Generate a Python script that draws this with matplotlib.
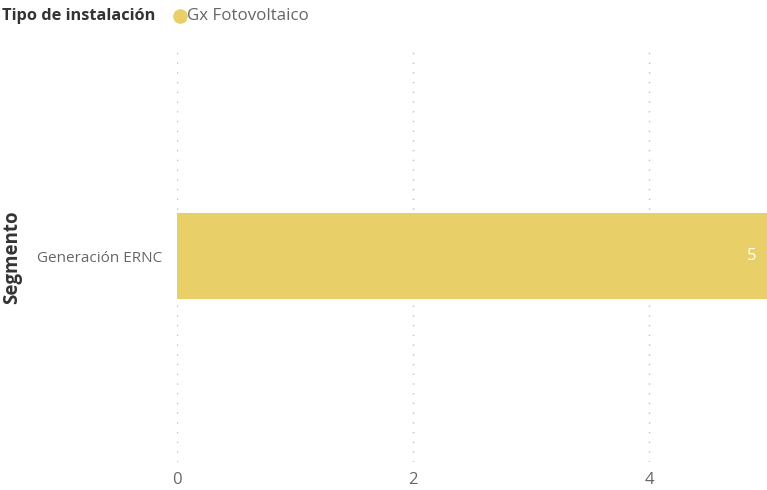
import matplotlib
matplotlib.use("Agg")
import matplotlib.pyplot as plt
from matplotlib.lines import Line2D

categories = ["Generación ERNC"]
values = [5]
series_name = "Gx Fotovoltaico"
legend_title = "Tipo de instalación"
xticks = [0, 2, 4]

plt.rcParams['font.family'] = ['Open Sans', 'DejaVu Sans']

fig = plt.figure(figsize=(7.67, 4.9), dpi=100)
ax = fig.add_axes([177/767, 28/490, 590/767, 412/490])

bar_color = "#E8CF68"
ax.barh(categories, values, height=0.21, color=bar_color, zorder=2)
ax.set_xlim(0, 5)
ax.set_ylim(-0.5, 0.5)
ax.set_xticks(xticks)
ax.set_xticklabels([str(t) for t in xticks])
ax.tick_params(axis='x', length=0, pad=7, labelsize=12, labelcolor="#666666")
ax.tick_params(axis='y', length=0, pad=11, labelsize=11, labelcolor="#666666")
ax.grid(axis='x', linestyle=(0, (1, 6)), color="#c0c0c0", linewidth=1, zorder=0)
for s in ax.spines.values():
    s.set_visible(False)

for i, v in enumerate(values):
    ax.text(v - 0.09, i, str(v), color="white", fontsize=12, ha='right', va='center')

fig.text(12/767, 1 - 257/490, "Segmento", rotation=90, fontsize=13.5, fontweight='bold',
         color="#333333", ha='center', va='center')

fig.text(2/767, 1 - 16/490, legend_title, fontsize=11.8, fontweight='bold', color="#333333",
         ha='left', va='center')
fig.add_artist(Line2D([180/767], [1 - 16/490], marker='o', markersize=9.5,
                      color=bar_color, linestyle='none', transform=fig.transFigure))
fig.text(187/767, 1 - 16/490, series_name, fontsize=12.2, color="#666666",
         ha='left', va='center')

fig.savefig("out.png", dpi=100)
